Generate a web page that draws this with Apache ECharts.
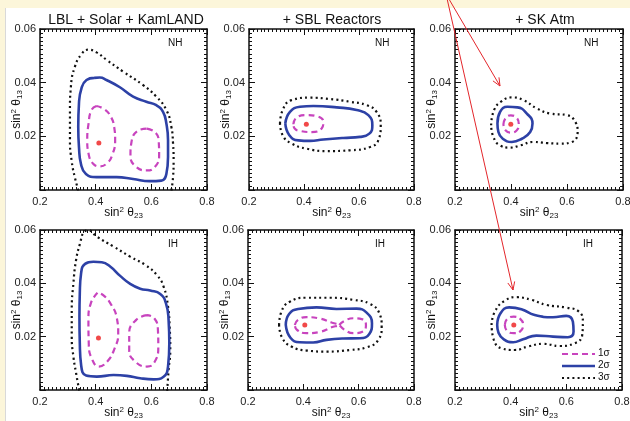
<!DOCTYPE html>
<html><head><meta charset="utf-8">
<script src="https://cdn.jsdelivr.net/npm/echarts@6/dist/echarts.min.js"></script>
<style>
html,body{margin:0;padding:0}
#wrap{position:relative;width:630px;height:421px;background:#fcf6da;overflow:hidden}
#sheet{position:absolute;left:5px;top:8px;width:625px;height:413px;background:#fff;border-left:1px solid #d9d9d9}
#chart{position:absolute;left:0;top:0;width:630px;height:421px}
</style>
</head><body><div id="wrap"><div id="sheet"></div><div id="chart"></div></div><script>
// Axis ranges and labelled ticks
const xMin = 0.2, xMax = 0.8, xStep = 0.2;
const yMin = 0, yMax = 0.06, yStep = 0.02;

const panelTitles = ['LBL + Solar + KamLAND', '+ SBL Reactors', '+ SK Atm'];
const hierarchies = ['NH', 'IH'];
const sigmaNames = ['1σ', '2σ', '3σ'];

// ---- NH, LBL + Solar + KamLAND ----
const nhLbl3 = [[0.343,-0.002],[0.325,0.0048],[0.3135,0.011],[0.3076,0.0185],[0.3076,0.0298],[0.311,0.0385],[0.3255,0.046],[0.349,0.0506],[0.373,0.0523],[0.403,0.0513],[0.439,0.0485],[0.499,0.0441],[0.5705,0.0391],[0.618,0.0348],[0.654,0.0298],[0.672,0.0235],[0.678,0.0173],[0.680,0.011],[0.678,0.0048],[0.6685,-0.002]];
const nhLbl2 = [[0.395,0.0418],[0.367,0.0410],[0.349,0.0379],[0.340,0.0323],[0.3374,0.0235],[0.340,0.016],[0.347,0.0098],[0.365,0.006],[0.403,0.0048],[0.475,0.0048],[0.5346,0.0041],[0.594,0.0033],[0.636,0.0035],[0.654,0.006],[0.660,0.0123],[0.660,0.0185],[0.654,0.0248],[0.642,0.0291],[0.618,0.0316],[0.582,0.0329],[0.5346,0.0348],[0.487,0.0383],[0.439,0.041],[0.415,0.0419]];
const nhLbl1a = [[0.403,0.0313],[0.385,0.0298],[0.3745,0.0248],[0.3697,0.0185],[0.3745,0.0135],[0.391,0.0098],[0.415,0.0088],[0.441,0.010],[0.459,0.0129],[0.470,0.0185],[0.4665,0.0235],[0.4546,0.0273],[0.433,0.030]];
const nhLbl1b = [[0.5825,0.0229],[0.550,0.022],[0.5287,0.0179],[0.525,0.0129],[0.5406,0.0091],[0.5825,0.0073],[0.612,0.0085],[0.628,0.0129],[0.6267,0.0179],[0.6147,0.0214]];
const nhLblBest = [0.4115, 0.0175];

// ---- NH, + SBL Reactors ----
const nhSbl3 = [[0.3127,0.0248],[0.3224,0.0298],[0.355,0.0335],[0.4218,0.0344],[0.4945,0.0339],[0.567,0.0329],[0.628,0.0316],[0.664,0.0291],[0.679,0.0241],[0.670,0.0185],[0.640,0.016],[0.567,0.0148],[0.4824,0.0145],[0.4097,0.0154],[0.355,0.0173],[0.3224,0.0204]];
const nhSbl2 = [[0.332,0.0248],[0.349,0.0291],[0.3855,0.031],[0.434,0.0313],[0.519,0.0308],[0.5915,0.0298],[0.634,0.0279],[0.6485,0.0241],[0.6376,0.021],[0.6036,0.0198],[0.543,0.0194],[0.4703,0.0188],[0.4218,0.0183],[0.3794,0.0185],[0.3467,0.0204]];
const nhSbl1 = [[0.3612,0.0245],[0.3733,0.027],[0.4097,0.0279],[0.446,0.0275],[0.4703,0.0254],[0.4642,0.0229],[0.4279,0.0216],[0.3855,0.022],[0.366,0.0229]];
const nhSblBest = [0.4085, 0.0245];

// ---- NH, + SK Atm ----
const nhSk3 = [[0.329,0.0241],[0.3396,0.0298],[0.367,0.0331],[0.403,0.0345],[0.4446,0.0335],[0.4924,0.0304],[0.540,0.0285],[0.5998,0.0279],[0.6296,0.0254],[0.638,0.0216],[0.6177,0.0179],[0.576,0.0173],[0.528,0.0175],[0.480,0.0179],[0.4327,0.0166],[0.3969,0.0158],[0.361,0.0166],[0.337,0.0198]];
const nhSk2 = [[0.3516,0.0248],[0.361,0.0291],[0.3874,0.031],[0.4231,0.0308],[0.4566,0.0285],[0.4768,0.0248],[0.4685,0.0216],[0.4387,0.0191],[0.4029,0.0179],[0.3706,0.0191],[0.355,0.0216]];
const nhSk1 = [[0.373,0.0245],[0.3814,0.0269],[0.3993,0.0278],[0.4208,0.0268],[0.4279,0.0245],[0.4208,0.0223],[0.3993,0.0214],[0.3802,0.0223]];
const nhSkBest = [0.3993, 0.0245];

// ---- IH, LBL + Solar + KamLAND ----
const ihLbl3 = [[0.344,-0.002],[0.3297,0.0063],[0.320,0.0125],[0.314,0.020],[0.314,0.030],[0.320,0.040],[0.3297,0.0488],[0.344,0.055],[0.3585,0.0593],[0.374,0.0598],[0.404,0.0575],[0.464,0.0538],[0.524,0.050],[0.578,0.0469],[0.620,0.0431],[0.644,0.0388],[0.660,0.0313],[0.6658,0.0238],[0.668,0.015],[0.662,0.0075],[0.656,-0.002]];
const ihLbl2 = [[0.392,0.0481],[0.362,0.0473],[0.3477,0.0438],[0.343,0.0363],[0.3417,0.0275],[0.343,0.0175],[0.3477,0.0094],[0.3657,0.0054],[0.404,0.005],[0.464,0.0056],[0.512,0.0053],[0.560,0.0044],[0.608,0.004],[0.644,0.005],[0.660,0.0088],[0.6646,0.0175],[0.662,0.0263],[0.6526,0.0325],[0.632,0.036],[0.596,0.0373],[0.560,0.038],[0.524,0.0398],[0.488,0.0428],[0.452,0.0463],[0.422,0.0479]];
const ihLbl1a = [[0.4065,0.0365],[0.3825,0.0325],[0.374,0.0265],[0.3753,0.017],[0.3873,0.0115],[0.4113,0.0088],[0.4425,0.0108],[0.4677,0.0155],[0.481,0.021],[0.476,0.027],[0.4545,0.0322],[0.428,0.0355]];
const ihLbl1b = [[0.584,0.0281],[0.5457,0.0263],[0.5205,0.0213],[0.5205,0.015],[0.5385,0.011],[0.584,0.0088],[0.6106,0.0103],[0.625,0.0163],[0.6237,0.0225],[0.6106,0.0269]];
const ihLblBest = [0.410, 0.0195];

// ---- IH, + SBL Reactors ----
const ihSbl3 = [[0.3123,0.0244],[0.3208,0.0294],[0.351,0.0331],[0.4114,0.0346],[0.4959,0.0346],[0.5804,0.0338],[0.6408,0.0323],[0.6746,0.0288],[0.6831,0.0238],[0.671,0.0188],[0.6287,0.016],[0.5684,0.015],[0.4838,0.0144],[0.4114,0.0148],[0.357,0.0163],[0.3244,0.0194]];
const ihSbl2 = [[0.3365,0.0244],[0.3486,0.0285],[0.3812,0.0304],[0.4476,0.031],[0.52,0.0304],[0.5925,0.0305],[0.6287,0.029],[0.6481,0.025],[0.6384,0.021],[0.6046,0.0194],[0.5442,0.0193],[0.4838,0.0188],[0.4355,0.0178],[0.3872,0.0179],[0.3534,0.0196]];
const ihSbl1a = [[0.3691,0.0244],[0.3812,0.0263],[0.4114,0.0273],[0.4597,0.0268],[0.502,0.0253],[0.5261,0.0244],[0.502,0.0235],[0.4597,0.0218],[0.4114,0.0213],[0.3775,0.0225]];
const ihSbl1b = [[0.5297,0.0244],[0.5502,0.026],[0.5804,0.0269],[0.6142,0.0265],[0.6263,0.0244],[0.6167,0.022],[0.5804,0.0213],[0.5502,0.0225]];
const ihSblBest = [0.4053, 0.0244];

// ---- IH, + SK Atm ----
const ihSk3 = [[0.3313,0.0244],[0.3432,0.0294],[0.379,0.0335],[0.4208,0.0348],[0.4745,0.0338],[0.5282,0.0319],[0.5998,0.0309],[0.6451,0.0294],[0.6594,0.0256],[0.657,0.0206],[0.6296,0.0175],[0.5759,0.0165],[0.5162,0.0173],[0.4625,0.0163],[0.4148,0.015],[0.3671,0.0156],[0.3396,0.0188]];
const ihSk2 = [[0.3516,0.0244],[0.3635,0.0288],[0.3945,0.031],[0.4387,0.0303],[0.4864,0.0281],[0.552,0.0273],[0.5998,0.0278],[0.6236,0.0256],[0.626,0.0219],[0.6057,0.0198],[0.552,0.020],[0.4924,0.0204],[0.4446,0.019],[0.4088,0.0179],[0.3754,0.019],[0.3563,0.0215]];
const ihSk1 = [[0.379,0.0244],[0.3874,0.0266],[0.4112,0.0275],[0.4351,0.0266],[0.4446,0.0244],[0.4351,0.0221],[0.4112,0.0213],[0.3874,0.0221]];
const ihSkBest = [0.4112, 0.0244];

// Panel boxes in pixels and which curves go where
const panels = [
  {box:[40,29,167,161],  row:0, col:0, s3:nhLbl3, open3:true,  s2:nhLbl2, s1:[nhLbl1a,nhLbl1b], best:nhLblBest},
  {box:[249,29,165,161], row:0, col:1, s3:nhSbl3, open3:false, s2:nhSbl2, s1:[nhSbl1], best:nhSblBest},
  {box:[455,29,168,161], row:0, col:2, s3:nhSk3,  open3:false, s2:nhSk2,  s1:[nhSk1], best:nhSkBest},
  {box:[40,230,167,160], row:1, col:0, s3:ihLbl3, open3:true,  s2:ihLbl2, s1:[ihLbl1a,ihLbl1b], best:ihLblBest},
  {box:[248,230,166,160],row:1, col:1, s3:ihSbl3, open3:false, s2:ihSbl2, s1:[ihSbl1a,ihSbl1b], best:ihSblBest},
  {box:[455,230,167,160],row:1, col:2, s3:ihSk3,  open3:false, s2:ihSk2,  s1:[ihSk1], best:ihSkBest}
];
const titleCenters = [121, 327, 540];

const FONT = 'Liberation Sans, Arial, Helvetica, sans-serif';
const C1 = '#c844be', C2 = '#2d41a6', C3 = '#111111', CBEST = '#ee1c1c';
const DASH1 = [6, 4], DOT3 = [2, 3.2];
const closeLoop = pts => pts.concat([pts[0]]);

const grids = [], xAxes = [], yAxes = [], series = [], titles = [], graphics = [];
// sin²θ with raised square and lowered angle index, kept in a 14px line box
const nameRich = {
  n: {fontSize: 12, lineHeight: 14, fontFamily: FONT, color: '#111'},
  sup: {fontSize: 8, lineHeight: 8, verticalAlign: 'top', fontFamily: FONT, color: '#111'},
  sub: {fontSize: 8, lineHeight: 8, verticalAlign: 'bottom', fontFamily: FONT, color: '#111'}
};

panels.forEach((p, i) => {
  const [l, t, w, h] = p.box;
  grids.push({left: l, top: t, width: w, height: h, containLabel: false, outerBoundsMode: 'none'});
  const baseX = {
    gridIndex: i, type: 'value', min: xMin, max: xMax, interval: xStep,
    axisLine: {show: true, onZero: false, lineStyle: {color: '#111', width: 1.5}},
    axisTick: {show: true, inside: true, length: 6, lineStyle: {color: '#111', width: 1}},
    minorTick: {show: true, splitNumber: 14, length: 3, lineStyle: {color: '#111', width: 1}},
    splitLine: {show: false}
  };
  const baseY = {
    gridIndex: i, type: 'value', min: yMin, max: yMax, interval: yStep,
    axisLine: {show: true, onZero: false, lineStyle: {color: '#111', width: 1.5}},
    axisTick: {show: true, inside: true, length: 6, lineStyle: {color: '#111', width: 1}},
    minorTick: {show: true, splitNumber: 13, length: 3, lineStyle: {color: '#111', width: 1}},
    splitLine: {show: false}
  };
  xAxes.push(Object.assign({}, baseX, {
    position: 'bottom',
    axisLabel: {show: true, margin: 6, fontSize: 11, fontFamily: FONT, color: '#222',
      formatter: v => (+v).toFixed(1)},
    name: '{n|sin}{sup|2}{n| θ}{sub|23}', nameLocation: 'middle', nameGap: 16,
    nameMoveOverlap: false,
    nameTextStyle: {rich: nameRich}
  }));
  xAxes.push(Object.assign({}, baseX, {position: 'top', axisLabel: {show: false}}));
  yAxes.push(Object.assign({}, baseY, {
    position: 'left',
    axisLabel: {show: true, margin: 4, fontSize: 11, fontFamily: FONT, color: '#222',
      formatter: v => (Math.abs(v) < 1e-9 ? '' : (+v).toFixed(2))},
    name: '{n|sin}{sup|2}{n| θ}{sub|13}', nameLocation: 'middle', nameGap: 16, nameRotate: 90,
    nameMoveOverlap: false,
    nameTextStyle: {rich: nameRich}
  }));
  yAxes.push(Object.assign({}, baseY, {position: 'right', axisLabel: {show: false}}));

  const xi = 2 * i, yi = 2 * i;
  series.push({
    name: sigmaNames[2], type: 'line', xAxisIndex: xi, yAxisIndex: yi,
    data: p.open3 ? p.s3 : closeLoop(p.s3), smooth: 0.5, symbol: 'none', clip: true,
    lineStyle: {color: C3, width: 2.2, type: DOT3}, z: 3
  });
  series.push({
    name: sigmaNames[1], type: 'line', xAxisIndex: xi, yAxisIndex: yi,
    data: closeLoop(p.s2), smooth: 0.5, symbol: 'none', clip: true,
    lineStyle: {color: C2, width: 2.6}, z: 4
  });
  p.s1.forEach(loop => series.push({
    name: sigmaNames[0], type: 'line', xAxisIndex: xi, yAxisIndex: yi,
    data: closeLoop(loop), smooth: 0.5, symbol: 'none', clip: true,
    lineStyle: {color: C1, width: 2.2, type: DASH1}, z: 5
  }));
  series.push({
    name: 'best fit', type: 'scatter', xAxisIndex: xi, yAxisIndex: yi,
    data: [p.best], symbolSize: 5, itemStyle: {color: CBEST}, z: 6
  });

  if (p.row === 0) {
    titles.push({text: panelTitles[p.col], left: titleCenters[p.col], top: 8, textAlign: 'center',
      textStyle: {fontSize: 14, fontWeight: 'normal', fontFamily: FONT, color: '#111'}});
  }
  graphics.push({type: 'text', left: l + w - 39, top: t + 9,
    style: {text: hierarchies[p.row], fontSize: 10, fontFamily: FONT, fill: '#111'}, z: 10});
});

// Key for the three confidence levels, inside the lower right panel
const keyStyles = [
  {stroke: C1, lineWidth: 2.2, lineDash: DASH1},
  {stroke: C2, lineWidth: 2.6},
  {stroke: C3, lineWidth: 2.2, lineDash: DOT3}
];
const keyRows = [354, 366, 378];
sigmaNames.forEach((nm, k) => {
  graphics.push({type: 'line', shape: {x1: 562, y1: keyRows[k], x2: 595, y2: keyRows[k]},
    style: Object.assign({fill: null}, keyStyles[k]), z: 10});
  graphics.push({type: 'text', left: 598, top: keyRows[k] - 6,
    style: {text: nm, fontSize: 10, fontFamily: FONT, fill: '#111'}, z: 10});
});

// Red pointer arrows running in from the top edge
function arrow(x0, y0, x1, y1) {
  const dx = x1 - x0, dy = y1 - y0, len = Math.hypot(dx, dy);
  const ux = dx / len, uy = dy / len, hl = 8, hw = 3.5;
  const bx = x1 - ux * hl, by = y1 - uy * hl;
  return [
    {type: 'line', shape: {x1: x0, y1: y0, x2: x1, y2: y1}, style: {stroke: '#e3262b', lineWidth: 1}, z: 20},
    {type: 'polyline', shape: {points: [[bx - uy * hw, by + ux * hw], [x1, y1], [bx + uy * hw, by - ux * hw]]},
      style: {stroke: '#e3262b', lineWidth: 1, fill: null}, z: 20}
  ];
}
graphics.push(...arrow(446, -6, 500, 86), ...arrow(446, -6, 513, 290));

const chart = echarts.init(document.getElementById('chart'), null, {renderer: 'canvas'});
chart.setOption({
  backgroundColor: 'transparent',
  animation: false,
  title: titles,
  grid: grids,
  xAxis: xAxes,
  yAxis: yAxes,
  graphic: graphics,
  series: series
});
</script></body></html>
